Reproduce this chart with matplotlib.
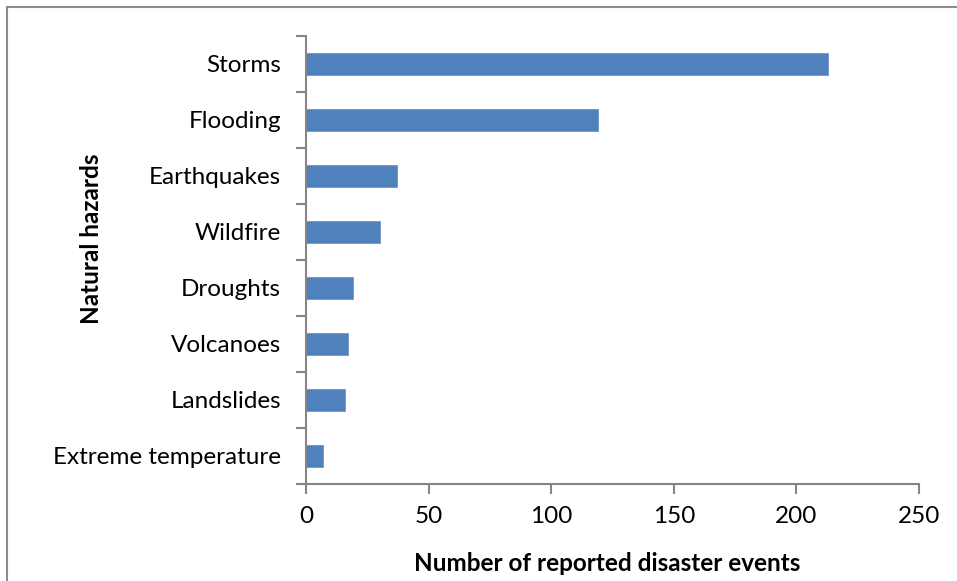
import numpy as np
import matplotlib.pyplot as plt
from matplotlib.patches import Rectangle

hazards = ['Storms', 'Flooding', 'Earthquakes', 'Wildfire', 'Droughts',
           'Volcanoes', 'Landslides', 'Extreme temperature']
events = [213, 119, 37, 30, 19, 17, 16, 7]
xticks = [0, 50, 100, 150, 200, 250]

plt.rcParams['font.family'] = ['Lato', 'DejaVu Sans']
grey = '#868686'

fig = plt.figure(figsize=(9.57, 5.81), dpi=100)
ax = fig.add_axes([306 / 957, 1 - 484 / 581, 613 / 957, 448 / 581])

pos = np.arange(len(hazards))
ax.barh(pos, events, height=0.4, color='#4f81bd', edgecolor='#6f96c8', linewidth=0.6)

ax.set_xlim(0, 250)
ax.set_ylim(len(hazards) - 0.5, -0.5)
ax.set_xticks(xticks)
ax.set_yticks(pos)
ax.set_yticklabels(hazards)
ax.set_yticks(np.arange(len(hazards) + 1) - 0.5, minor=True)

ax.tick_params(axis='y', which='major', length=0, pad=18, labelsize=17.5)
ax.tick_params(axis='y', which='minor', length=7, width=1.5, color=grey, direction='out')
ax.tick_params(axis='x', length=7, width=1.5, color=grey, direction='out', pad=9, labelsize=17.5)

for s in ['top', 'right']:
    ax.spines[s].set_visible(False)
for s in ['left', 'bottom']:
    ax.spines[s].set_color(grey)
    ax.spines[s].set_linewidth(1.5)

ax.set_xlabel('Number of reported disaster events', fontsize=17.5, fontweight='bold')
ax.set_ylabel('Natural hazards', fontsize=17.5, fontweight='bold')
ax.xaxis.set_label_coords(0.492, -0.152)
ax.yaxis.set_label_coords(-0.331, 0.547)

# outer chart frame (Excel style)
fig.patches.append(Rectangle((7 / 957, -0.1), 1.1, 1 - 7 / 581 + 0.1, transform=fig.transFigure,
                             fill=False, edgecolor='#8c8c8c', linewidth=1.5, clip_on=False))

fig.savefig('out.png', dpi=100)
